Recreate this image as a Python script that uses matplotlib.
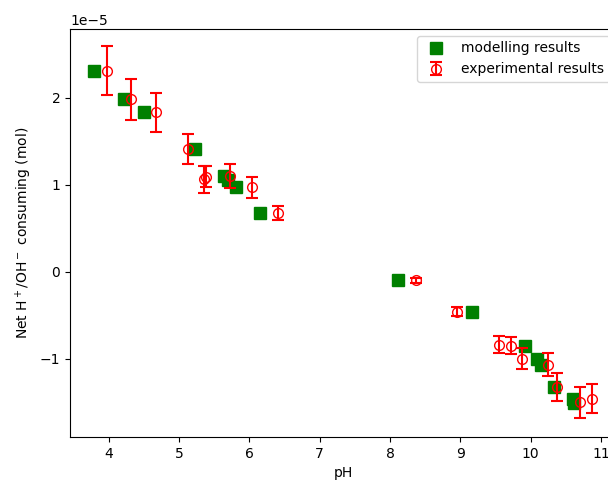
import matplotlib
matplotlib.use("Agg")
import matplotlib.pyplot as plt

# modelling results (pH, net consumption in 1e-5 mol)
model_ph = [3.79, 4.22, 4.50, 5.23, 5.64, 5.69, 5.81, 6.15,
            8.12, 9.17, 9.92, 10.09, 10.15, 10.33, 10.60, 10.62]
model_val = [2.31, 1.98, 1.83, 1.41, 1.10, 1.05, 0.97, 0.67,
             -0.10, -0.46, -0.85, -1.00, -1.07, -1.33, -1.46, -1.51]

# experimental results with error bars
exp_ph = [3.97, 4.31, 4.67, 5.13, 5.35, 5.38, 5.72, 6.04, 6.40,
          8.37, 8.96, 9.55, 9.72, 9.88, 10.25, 10.37, 10.70, 10.88]
exp_val = [2.31, 1.98, 1.83, 1.41, 1.06, 1.09, 1.10, 0.97, 0.67,
           -0.10, -0.46, -0.84, -0.85, -1.00, -1.07, -1.33, -1.50, -1.46]
exp_err = [0.28, 0.24, 0.22, 0.17, 0.15, 0.12, 0.14, 0.12, 0.08,
           0.03, 0.05, 0.10, 0.10, 0.12, 0.13, 0.16, 0.18, 0.17]


def main():
    fig = plt.figure(figsize=(6.08, 4.82), dpi=100)
    # the original picture is cropped on the right, so the axes run past the edge
    ax = fig.add_axes([0.1151, 0.0934, 0.8997, 0.8465])

    scale = 1e-5
    ax.plot(model_ph, [v * scale for v in model_val], 's', color='green',
            markersize=8, label='modelling results')
    ax.errorbar(exp_ph, [v * scale for v in exp_val],
                yerr=[e * scale for e in exp_err], fmt='o', color='red',
                mfc='none', markersize=7, elinewidth=1.5, capsize=4,
                capthick=1.5, label='experimental results')

    ax.set_xlim(3.446, 11.23)
    ax.set_ylim(-1.90e-5, 2.79e-5)
    ax.set_xticks([4, 5, 6, 7, 8, 9, 10, 11])
    ax.set_xlabel('pH')
    ax.set_ylabel('Net H$^+$/OH$^-$ consuming (mol)')
    ax.legend(loc='upper right')

    fig.savefig('out.png', dpi=100)


if __name__ == "__main__":
    main()
